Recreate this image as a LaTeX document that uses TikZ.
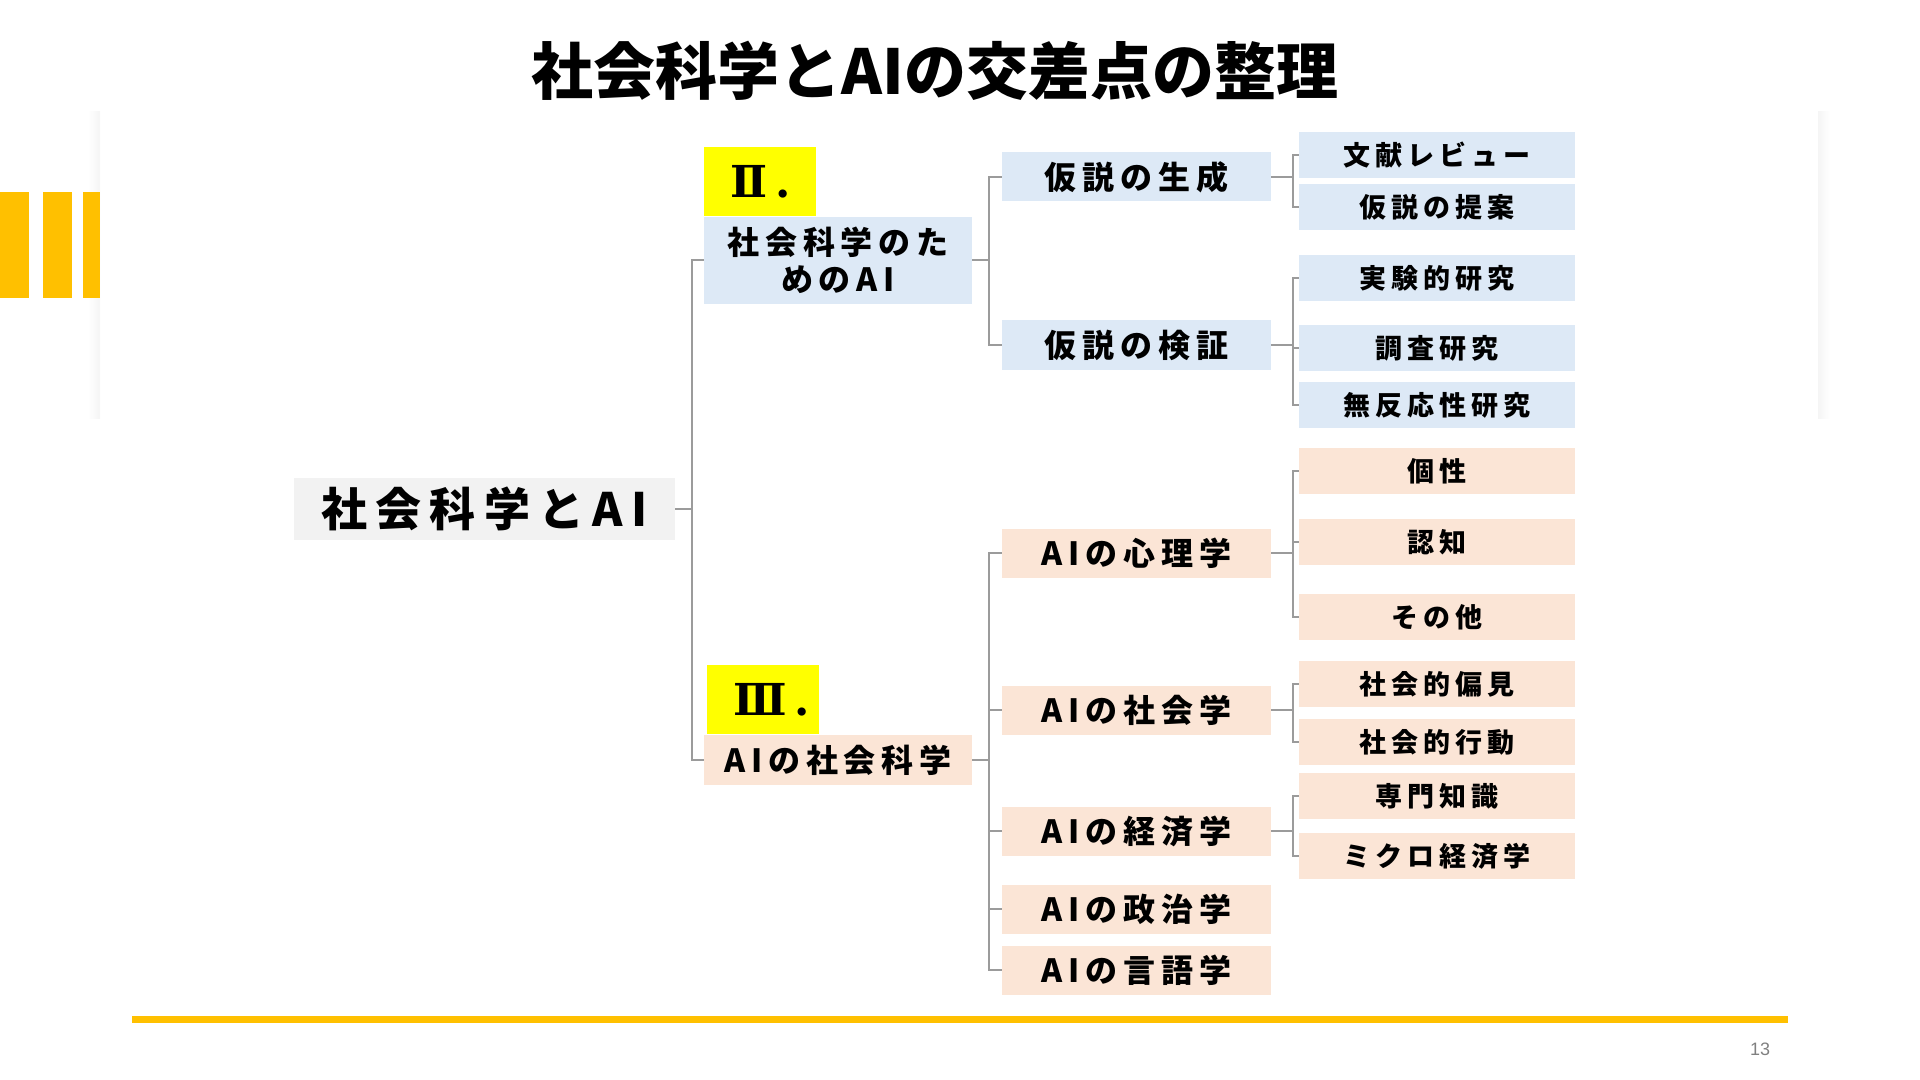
\documentclass[tikz,border=0pt]{standalone}
\usepackage{fontspec}
\setmainfont{Noto Sans CJK JP}
\newfontfamily\jpbox{Noto Sans CJK JP}[LetterSpace=18]
\newfontfamily\romfont{DejaVu Serif}
\newfontfamily\numfont{Liberation Sans}
\usetikzlibrary{positioning}

\definecolor{barorange}{RGB}{255,192,0}
\definecolor{boxblue}{RGB}{221,233,246}
\definecolor{boxpeach}{RGB}{251,229,214}
\definecolor{boxgray}{RGB}{242,242,242}
\definecolor{tagyellow}{RGB}{255,255,0}
\definecolor{linegray}{RGB}{155,155,155}

\newcommand{\tagtext}[1]{\makebox[30pt][l]{#1\hspace{4pt}.}}

\begin{document}
\begin{tikzpicture}[x=0.5pt, y=-0.5pt,
  box/.style={inner sep=0pt, align=center, font=\jpbox\bfseries\fontsize{16}{18.5}\selectfont},
  rootbox/.style={box, fill=boxgray, minimum width=190.5pt, minimum height=31pt,
    font=\jpbox\bfseries\fontsize{23}{23}\selectfont},
  lvone/.style={box, minimum width=134pt},
  lvtwo/.style={box, minimum width=134.5pt, minimum height=24.5pt},
  leaf/.style={box, minimum width=138pt, minimum height=23pt,
    font=\jpbox\bfseries\fontsize{13.5}{13.5}\selectfont},
  tag/.style={fill=tagyellow, inner sep=0pt, inner xsep=13pt, minimum width=56pt,
    minimum height=34.5pt, font=\romfont\bfseries\fontsize{22}{22}\selectfont},
  conn/.style={draw=linegray, line width=1pt},
  elbow/.style={to path={-- ++(#1,0) |- (\tikztotarget)}}]

  \useasboundingbox (0,0) rectangle (1920,1080);

  % panel shadow and side bars
  \shade[left color=white, right color=black!4] (88,112) rectangle (100,418);
  \shade[left color=black!4, right color=white] (1818,112) rectangle (1830,418);
  \fill[barorange] (0,192) rectangle (29,298);
  \fill[barorange] (43,192) rectangle (72,298);
  \fill[barorange] (83,192) rectangle (100,298);

  \node (title) at (935,71) {\bfseries\fontsize{31}{31}\selectfont 社会科学とAIの交差点の整理};

  \node[rootbox] (root) at (484.5,509) {社会科学とAI};

  \node[lvone, fill=boxblue, minimum height=43.5pt] (soc4ai) at (838,260.5) {社会科学のた\\めのAI};
  \node[tag, anchor=south west] (tag2) at (soc4ai.north west) {\tagtext{Ⅱ}};
  \node[lvone, fill=boxpeach, minimum height=25pt] (ai4soc) at (838,760) {AIの社会科学};
  \node[tag, anchor=south west, xshift=1.5pt] (tag3) at (ai4soc.north west) {\tagtext{Ⅲ}};

  \node[lvtwo, fill=boxblue] (hypgen) at (1136.5,177) {仮説の生成};
  \node[lvtwo, fill=boxblue] (hyptest) at (1136.5,345) {仮説の検証};
  \node[lvtwo, fill=boxpeach] (psy) at (1136.5,553) {AIの心理学};
  \node[lvtwo, fill=boxpeach] (socio) at (1136.5,710) {AIの社会学};
  \node[lvtwo, fill=boxpeach] (econ) at (1136.5,831) {AIの経済学};
  \node[lvtwo, fill=boxpeach] (poli) at (1136.5,909) {AIの政治学};
  \node[lvtwo, fill=boxpeach] (ling) at (1136.5,970) {AIの言語学};

  \node[leaf, fill=boxblue] (review) at (1437,155) {文献レビュー};
  \node[leaf, fill=boxblue] (propose) at (1437,207) {仮説の提案};
  \node[leaf, fill=boxblue] (expt) at (1437,278) {実験的研究};
  \node[leaf, fill=boxblue] (survey) at (1437,348) {調査研究};
  \node[leaf, fill=boxblue] (unobtr) at (1437,405) {無反応性研究};
  \node[leaf, fill=boxpeach] (person) at (1437,471) {個性};
  \node[leaf, fill=boxpeach] (cognit) at (1437,542) {認知};
  \node[leaf, fill=boxpeach] (others) at (1437,617) {その他};
  \node[leaf, fill=boxpeach] (bias) at (1437,684) {社会的偏見};
  \node[leaf, fill=boxpeach] (behav) at (1437,742) {社会的行動};
  \node[leaf, fill=boxpeach] (expert) at (1437,796) {専門知識};
  \node[leaf, fill=boxpeach] (micro) at (1437,856) {ミクロ経済学};

  \path[conn]
  (root.east) edge[elbow=17] (soc4ai.west)
  (root.east) edge[elbow=17] (ai4soc.west)
  (soc4ai.east) edge[elbow=17] (hypgen.west)
  (soc4ai.east) edge[elbow=17] (hyptest.west)
  (ai4soc.east) edge[elbow=17] (psy.west)
  (ai4soc.east) edge[elbow=17] (socio.west)
  (ai4soc.east) edge[elbow=17] (econ.west)
  (ai4soc.east) edge[elbow=17] (poli.west)
  (ai4soc.east) edge[elbow=17] (ling.west);

  \path[conn]
  (hypgen.east) edge[elbow=22] (review.west)
  (hypgen.east) edge[elbow=22] (propose.west)
  (hyptest.east) edge[elbow=22] (expt.west)
  (hyptest.east) edge[elbow=22] (survey.west)
  (hyptest.east) edge[elbow=22] (unobtr.west)
  (psy.east) edge[elbow=22] (person.west)
  (psy.east) edge[elbow=22] (cognit.west)
  (psy.east) edge[elbow=22] (others.west)
  (socio.east) edge[elbow=22] (bias.west)
  (socio.east) edge[elbow=22] (behav.west)
  (econ.east) edge[elbow=22] (expert.west)
  (econ.east) edge[elbow=22] (micro.west);

  % footer
  \fill[barorange] (132,1016) rectangle (1788,1023);
  \node[text=gray, font=\numfont\fontsize{9}{9}\selectfont] (pagenum) at (1760,1049) {13};
\end{tikzpicture}
\end{document}
